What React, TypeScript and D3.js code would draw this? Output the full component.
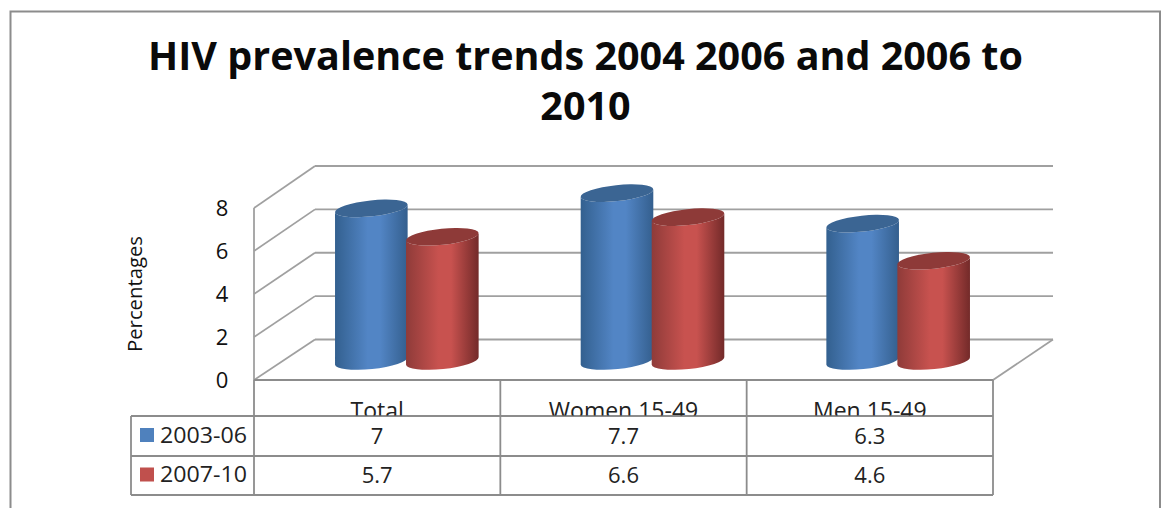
import React from "react";
import * as d3 from "d3";

const categories = ["Total", "Women 15-49", "Men 15-49"];
const seriesNames = ["2003-06", "2007-10"];
const values2003 = [7, 7.7, 6.3];
const values2007 = [5.7, 6.6, 4.6];
const yTicks = [0, 2, 4, 6, 8];
const titleLines = ["HIV prevalence trends 2004 2006 and 2006 to", "2010"];

const W = 1166;
const H = 508;
const FONT = "'Open Sans', 'Noto Sans', sans-serif";
const GRID = "#a0a0a0";
const TABLE = "#8c8c8c";

// Three scales share the value domain: the front wall edge, the back wall, and the mid depth where the cylinders stand.
const yFront = d3.scaleLinear().domain([0, 8]).range([380, 208]);
const yBack = d3.scaleLinear().domain([0, 8]).range([339.5, 166]);
const yBar = d3.scaleLinear().domain([0, 8]).range([361, 186.6]);

const xTable = d3.scaleBand<string>().domain(categories).range([254, 993]);
const xMid = d3.scaleBand<string>().domain(categories).range([284, 1021]);
const xSeries = d3.scaleBand<string>().domain(seriesNames).range([-71, 71]);

const palette = [
  { id: "blueBody", edgeL: "#33608f", mid: "#5285c5", edgeR: "#345f8e", top: "#3b6593", swatch: "#4f81bd" },
  { id: "redBody", edgeL: "#8f3b39", mid: "#c8524f", edgeR: "#732a29", top: "#8e3a38", swatch: "#c0504d" },
];

const RX = 36.5;
const RY = 8;
const TILT = -6;
const tiltRad = (TILT * Math.PI) / 180;
const ex = RX * Math.cos(tiltRad);
const ey = RX * Math.sin(tiltRad);

function cylinderBody(cx: number, yTop: number, yBase: number) {
  const path = d3.path();
  path.moveTo(cx - ex, yTop - ey);
  path.lineTo(cx - ex, yBase - ey);
  return `${path.toString()} A${RX} ${RY} ${TILT} 0 0 ${cx + ex} ${yBase + ey} L${cx + ex} ${yTop + ey} A${RX} ${RY} ${TILT} 0 1 ${cx - ex} ${yTop - ey} Z`;
}

function Cylinder({ cx, value, p }: { cx: number; value: number; p: (typeof palette)[number] }) {
  const yTop = yBar(value);
  return (
    <g>
      <path d={cylinderBody(cx, yTop, yBar(0))} fill={`url(#${p.id})`} />
      <ellipse cx={cx} cy={yTop} rx={RX} ry={RY} transform={`rotate(${TILT} ${cx} ${yTop})`} fill={p.top} />
    </g>
  );
}

export default function App() {
  const series = [values2003, values2007];
  const rowLines = [416, 456, 495];
  const rowCenters = [d3.mean([416, 456])!, d3.mean([456, 495])!];
  const colEdges = [...categories.map((c) => xTable(c)!), 993];
  return (
    <svg width={W} height={H} style={{ position: "absolute", left: 0, top: 0, background: "#fff" }}>
      <defs>
        {palette.map((p) => (
          <linearGradient key={p.id} id={p.id} x1="0" x2="1" y1="0" y2="0">
            <stop offset="0%" stopColor={p.edgeL} />
            <stop offset="45%" stopColor={p.mid} />
            <stop offset="62%" stopColor={p.mid} />
            <stop offset="100%" stopColor={p.edgeR} />
          </linearGradient>
        ))}
        <clipPath id="headerClip">
          <rect x={254} y={381} width={739} height={34.5} />
        </clipPath>
      </defs>

      {/* Outer frame, open at the bottom edge */}
      <path d={`M10.5 ${H} V11.5 H1160 V${H}`} fill="none" stroke="#8c8c8c" strokeWidth={2} />

      {titleLines.map((line, i) => (
        <text key={line} x={585.5} y={69.5 + i * 50.5} textAnchor="middle" fontFamily={FONT} fontWeight={700} fontSize={39.5} fill="#0a0a0a">
          {line}
        </text>
      ))}

      {/* Back wall gridlines and the side wall diagonals */}
      {yTicks.map((t) => (
        <g key={t} stroke={GRID} strokeWidth={1.8} fill="none">
          <line x1={315} x2={1053} y1={yBack(t)} y2={yBack(t)} />
          <line x1={254} x2={315} y1={yFront(t)} y2={yBack(t)} />
        </g>
      ))}
      <line x1={254} x2={254} y1={yFront(8)} y2={yFront(0)} stroke={GRID} strokeWidth={1.8} />
      <line x1={993} x2={1053} y1={yFront(0)} y2={yBack(0)} stroke={GRID} strokeWidth={1.8} />

      {yTicks.map((t) => (
        <text key={t} x={222} y={yFront(t) + 0.5} dy="0.36em" textAnchor="middle" fontFamily={FONT} fontSize={22} fill="#111">
          {d3.format("d")(t)}
        </text>
      ))}
      <text
        transform="translate(135 294) rotate(-90)"
        dy="0.36em"
        textAnchor="middle"
        fontFamily={FONT}
        fontSize={20}
        fontWeight={500}
        textLength={116}
        lengthAdjust="spacingAndGlyphs"
        fill="#111"
      >
        Percentages
      </text>

      {categories.map((c, i) =>
        seriesNames.map((s, j) => (
          <Cylinder
            key={`${c}-${s}`}
            cx={xMid(c)! + xMid.bandwidth() / 2 + xSeries(s)! + xSeries.bandwidth() / 2}
            value={series[j][i]}
            p={palette[j]}
          />
        ))
      )}

      {/* Data table */}
      <g stroke={TABLE} strokeWidth={1.8} fill="none">
        <line x1={254} x2={993} y1={380} y2={380} />
        {rowLines.map((y) => (
          <line key={y} x1={131} x2={993} y1={y} y2={y} />
        ))}
        <line x1={131} x2={131} y1={416} y2={495} />
        <line x1={254} x2={254} y1={380} y2={495} />
        <line x1={xTable(categories[1])!} x2={xTable(categories[1])!} y1={380} y2={495} />
        <line x1={xTable(categories[2])!} x2={xTable(categories[2])!} y1={380} y2={495} />
        <line x1={993} x2={993} y1={380} y2={495} />
      </g>

      <g clipPath="url(#headerClip)">
        {categories.map((c) => (
          <text key={c} x={xTable(c)! + xTable.bandwidth() / 2} y={418.5} textAnchor="middle" fontFamily={FONT} fontSize={23} fill="#222">
            {c}
          </text>
        ))}
      </g>

      {seriesNames.map((s, j) => (
        <g key={s}>
          <rect x={140} y={rowCenters[j] - 8} width={14} height={14} fill={palette[j].swatch} />
          <text
            x={160}
            y={rowCenters[j] - 1}
            dy="0.36em"
            fontFamily={FONT}
            fontSize={21}
            textLength={87}
            lengthAdjust="spacingAndGlyphs"
            fill="#222"
          >
            {s}
          </text>
          {series[j].map((v, i) => (
            <text
              key={categories[i]}
              x={(colEdges[i] + colEdges[i + 1]) / 2}
              y={rowCenters[j]}
              dy="0.36em"
              textAnchor="middle"
              fontFamily={FONT}
              fontSize={22}
              fill="#222"
            >
              {v}
            </text>
          ))}
        </g>
      ))}
    </svg>
  );
}
